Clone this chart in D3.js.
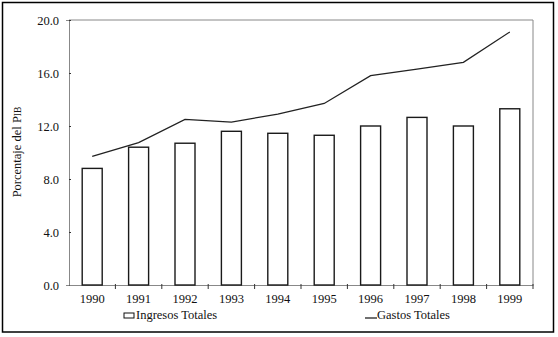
<!DOCTYPE html>
<html><head><meta charset="utf-8">
<script src="https://cdn.jsdelivr.net/npm/d3@7/dist/d3.min.js"></script>
<style>body{margin:0;background:#fff}svg{display:block}svg text{font-family:"Liberation Serif","Times New Roman",Times,serif}</style>
</head><body>
<svg id="c" width="558" height="337"></svg>
<script>
const years = ["1990","1991","1992","1993","1994","1995","1996","1997","1998","1999"];
const ingresos = [8.8, 10.4, 10.7, 11.6, 11.45, 11.3, 12.0, 12.65, 12.0, 13.3];
const gastos = [9.7, 10.75, 12.5, 12.3, 12.9, 13.7, 15.8, 16.3, 16.8, 19.1];
const yTicks = [0, 4, 8, 12, 16, 20];
const seriesNames = ["Ingresos Totales", "Gastos Totales"];

const font = "Liberation Serif";
const svg = d3.select("#c");
const L = 69, R = 533, T = 20, B = 285;

svg.append("rect").attr("x",2.5).attr("y",2.5).attr("width",551).attr("height",329.5)
  .attr("fill","none").attr("stroke","#000").attr("stroke-width",1.5);

const x = d3.scaleBand().domain(years).range([L,R]).padding(0);
const y = d3.scaleLinear().domain([0,20]).range([B,T]);

svg.append("path").attr("d",`M${L},${T}H${R}V${B}`).attr("fill","none").attr("stroke","#888").attr("stroke-width",1);

const yAxis = svg.append("g").attr("transform",`translate(${L},0)`)
  .call(d3.axisLeft(y).tickValues(yTicks).tickFormat(d3.format(".1f")).tickSize(3).tickPadding(7));
yAxis.select(".domain").attr("stroke","#888");
yAxis.selectAll(".tick line").attr("stroke","#333").attr("x2",2);
yAxis.selectAll("text").attr("font-family",font).attr("font-size",12.5).attr("fill","#111");

const xAxis = svg.append("g").attr("transform",`translate(0,${B})`)
  .call(d3.axisBottom(x).tickSize(0).tickPadding(9));
xAxis.select(".domain").attr("stroke","#888");
xAxis.selectAll("text").attr("font-family",font).attr("font-size",12.5).attr("fill","#111");
const bounds = years.map((d,i)=> x(d)).slice(1).concat([R]);
svg.append("g").selectAll("line").data(bounds).join("line")
  .attr("x1",d=>d).attr("x2",d=>d).attr("y1",B-1).attr("y2",B+4)
  .attr("stroke","#333").attr("stroke-width",1);

const bw = 20;
svg.append("g").selectAll("rect").data(ingresos).join("rect")
  .attr("x",(d,i)=> x(years[i]) + x.bandwidth()/2 - bw/2)
  .attr("y",d=> y(d)).attr("width",bw).attr("height",d=> B - y(d))
  .attr("fill","#fff").attr("stroke","#1a1a1a").attr("stroke-width",1.4);

const line = d3.line().x((d,i)=> x(years[i]) + x.bandwidth()/2).y(d=> y(d));
svg.append("path").datum(gastos).attr("d",line).attr("fill","none")
  .attr("stroke","#222").attr("stroke-width",1.3);

const yl = svg.append("text").attr("transform","translate(21,152) rotate(-90)")
  .attr("text-anchor","middle").attr("font-family",font).attr("font-size",12.5).attr("fill","#111");
yl.append("tspan").text("Porcentaje del P");
yl.append("tspan").attr("font-size",9.5).text("IB");

svg.append("rect").attr("x",124).attr("y",313).attr("width",10).attr("height",5)
  .attr("fill","#fff").attr("stroke","#111").attr("stroke-width",1);
svg.append("text").attr("x",136).attr("y",319).attr("font-family",font).attr("font-size",12.5)
  .attr("fill","#111").text(seriesNames[0]);
svg.append("line").attr("x1",365).attr("x2",377).attr("y1",318).attr("y2",318)
  .attr("stroke","#111").attr("stroke-width",1.2);
svg.append("text").attr("x",377).attr("y",319).attr("font-family",font).attr("font-size",12.5)
  .attr("fill","#111").text(seriesNames[1]);
</script>
</body></html>
